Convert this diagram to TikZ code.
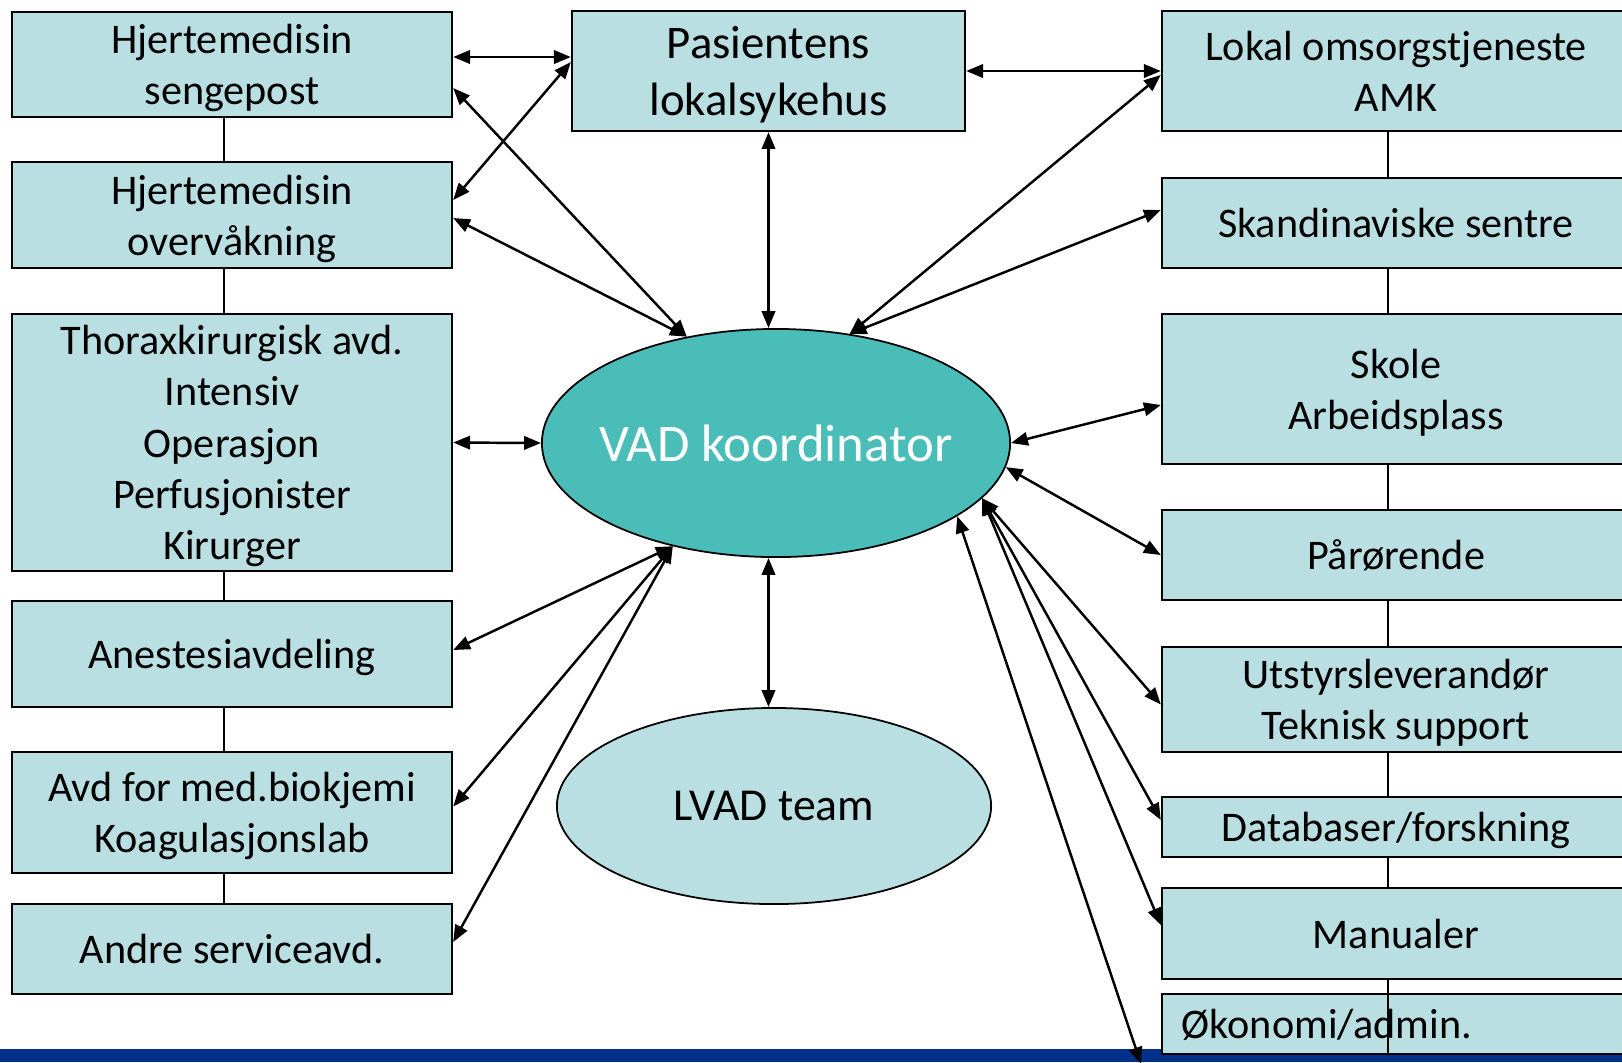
\documentclass[tikz,border=0pt]{standalone}
\usepackage{fontspec}
\setmainfont{Carlito}
\usetikzlibrary{arrows.meta,calc,shapes.geometric}
\definecolor{boxfill}{HTML}{B9DFE3}
\definecolor{vadfill}{HTML}{4BBDB9}
\definecolor{barblue}{HTML}{00308A}
\begin{document}
\begin{tikzpicture}[x=0.01cm,y=-0.01cm,>={Triangle[length=4.8pt,width=3.8pt]},
	unit/.style={draw,line width=0.6pt,fill=boxfill,inner sep=0pt,align=center,text depth=0pt,font=\fontsize{12}{14.6}\selectfont},
	lbox/.style={unit,minimum width=4.4cm},
	rbox/.style={unit,minimum width=4.68cm},
	link/.style={<->,line width=0.7pt},
	spine/.style={line width=0.5pt}]
	\useasboundingbox (0,0) rectangle (1622,1062);
	\fill[barblue] (0,1049) rectangle (1622,1062);
	% left column
	\node[lbox,minimum height=1.05cm] (L1) at (232,64.5) {Hjertemedisin\\sengepost};
	\node[lbox,minimum height=1.06cm] (L2) at (232,215) {Hjertemedisin\\overvåkning};
	\node[lbox,minimum height=2.57cm] (L3) at (232,442.5) {Thoraxkirurgisk avd.\\Intensiv\\Operasjon\\Perfusjonister\\Kirurger};
	\node[lbox,minimum height=1.06cm] (L4) at (232,654) {Anestesiavdeling};
	\node[lbox,minimum height=1.21cm] (L5) at (232,812.5) {Avd for med.biokjemi\\Koagulasjonslab};
	\node[lbox,minimum height=0.9cm] (L6) at (232,949) {Andre serviceavd.};
	% middle
	\node[unit,minimum width=3.93cm,minimum height=1.2cm,font=\fontsize{13.3}{16}\selectfont] (PL) at (768.5,71) {Pasientens\\lokalsykehus};
	\node[ellipse,draw,line width=0.5pt,fill=vadfill,inner sep=0pt,minimum width=4.68cm,minimum height=2.28cm,
		label={[text=white,font=\fontsize{15}{18}\selectfont]center:VAD koordinator}] (vad) at (776,443) {};
	\node[ellipse,draw,line width=0.5pt,fill=boxfill,inner sep=0pt,minimum width=4.34cm,minimum height=1.96cm,
		font=\fontsize{13}{16}\selectfont] (lvad) at (774,806) {LVAD team};
	% right column
	\node[rbox,minimum height=1.2cm] (R1) at (1396,71) {Lokal omsorgstjeneste\\AMK};
	\node[rbox,minimum height=0.9cm] (R2) at (1396,223) {Skandinaviske sentre};
	\node[rbox,minimum height=1.5cm] (R3) at (1396,389) {Skole\\Arbeidsplass};
	\node[rbox,minimum height=0.9cm] (R4) at (1396,555) {Pårørende};
	\node[rbox,minimum height=1.05cm] (R5) at (1396,699.5) {Utstyrsleverandør\\Teknisk support};
	\node[rbox,minimum height=0.6cm] (R6) at (1396,827) {Databaser/forskning};
	\node[rbox,minimum height=0.91cm] (R7) at (1396,933.5) {Manualer};
	\node[rbox,minimum height=0.6cm,text width=4.28cm,align=left] (R8) at (1396,1024) {Økonomi/admin.};
	\foreach \a/\b in {L1/L2,L2/L3,L3/L4,L4/L5,L5/L6,R1/R2,R2/R3,R3/R4,R4/R5,R5/R6,R6/R7}
		\draw[spine] ($(\a.south)+(-8,0)$) -- ($(\b.north)+(-8,0)$);
	\draw[spine] ($(R7.south)+(-8,0)$) -- ($(R8.south)+(-8,0)$);
	% connectors
	\draw[link] ($(L1.east)+(0,-7.5)$) -- ($(PL.west)+(0,-14)$);
	\draw[link] ($(L2.east)+(0,-15)$) -- ($(PL.west)+(0,-9)$);
	\draw[link] ($(L1.east)+(0,23.5)$) -- (vad.130);
	\draw[link] ($(L2.east)+(0,3)$) -- (vad.130);
	\draw[link] (PL.south) -- (PL.south |- vad.north);
	\draw[link] (PL.east) -- (R1.west);
	\draw[link] ($(R1.west)+(0,4)$) -- (vad.56);
	\draw[link] ($(R2.west)+(0,-13)$) -- (vad.56);
	\draw[link] (L3.east) -- (vad.west);
	\draw[link] ($(R3.west)+(0,16)$) -- (vad.east);
	\draw[link] (R4.west) -- (vad.354);
	\foreach \n/\dy in {L4/-4,L5/-6,L6/-7}
		\draw[link] ($(\n.east)+(0,\dy)$) -- (vad.225);
	\draw[link] (vad.south -| PL.south) -- (lvad.north -| PL.south);
	\foreach \n/\dy in {R5/5,R6/-7,R7/-8.5}
		\draw[link] ($(\n.west)+(0,\dy)$) -- (vad.345);
	\coordinate (adminend) at (1141,1064);
	\draw[link] (vad.338) -- (adminend);
\end{tikzpicture}
\end{document}
